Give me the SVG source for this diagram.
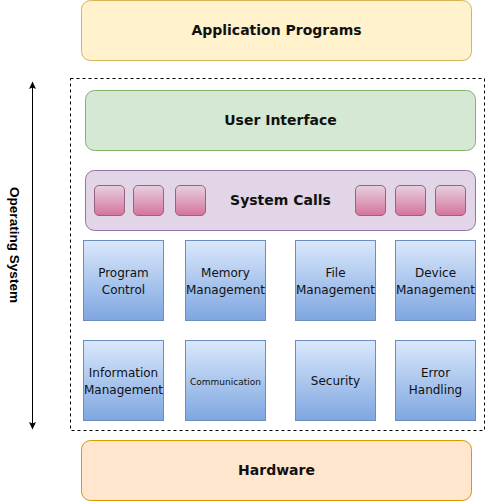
<svg xmlns="http://www.w3.org/2000/svg" width="486" height="501" viewBox="0 0 486 501">
<style>
.t{font-family:"DejaVu Sans",Verdana,sans-serif;font-size:12px;fill:#111;text-anchor:middle;dominant-baseline:central}
.b{font-family:"DejaVu Sans",Verdana,sans-serif;font-size:14px;font-weight:bold;fill:#111;text-anchor:middle;dominant-baseline:central}
.blue{fill:url(#gb);stroke:#6c8ebf;stroke-width:1}
.pink{fill:url(#gp);stroke:#996185;stroke-width:1}
</style>
<defs>
<linearGradient id="gb" x1="0" y1="0" x2="0" y2="1"><stop offset="0" stop-color="#dae8fc"/><stop offset="1" stop-color="#7ea6e0"/></linearGradient>
<linearGradient id="gp" x1="0" y1="0" x2="0" y2="1"><stop offset="0" stop-color="#e6d0de"/><stop offset="1" stop-color="#d5739d"/></linearGradient>
<marker id="ah" viewBox="0 0 8 8" refX="7" refY="4" markerWidth="8" markerHeight="8" markerUnits="userSpaceOnUse" orient="auto-start-reverse"><path d="M0,0.5 L7.5,4 L0,7.5 L1.5,4 Z" fill="#000"/></marker>
</defs>
<rect width="486" height="501" fill="#fff"/>
<g id="os-frame"><rect x="70.5" y="78.5" width="414" height="352" fill="none" stroke="#000" stroke-dasharray="3,3"/></g>
<g id="connectors"><line x1="32.5" y1="82" x2="32.5" y2="429" stroke="#000" stroke-width="1" marker-start="url(#ah)" marker-end="url(#ah)"/></g>
<g id="os-label"><text transform="translate(14,245) rotate(90)" font-family="'Liberation Sans',Arial,sans-serif" font-size="12" font-weight="bold" text-anchor="middle" dominant-baseline="central" fill="#000" textLength="116" lengthAdjust="spacingAndGlyphs">Operating System</text></g>
<g id="app"><rect x="81.5" y="0.5" width="390" height="60" rx="9" fill="#fff2cc" stroke="#d6b656"/><text class="b" x="276.5" y="30">Application Programs</text></g>
<g id="ui"><rect x="85.5" y="90.5" width="390" height="60" rx="9" fill="#d5e8d4" stroke="#82b366"/><text class="b" x="280.5" y="120">User Interface</text></g>
<g id="syscalls"><rect x="85.5" y="170.5" width="390" height="60" rx="9" fill="#e1d5e7" stroke="#9673a6"/><text class="b" x="280.5" y="200">System Calls</text>
<rect class="pink" x="94.5" y="185.5" width="30" height="30" rx="4.5"/>
<rect class="pink" x="133.5" y="185.5" width="30" height="30" rx="4.5"/>
<rect class="pink" x="175.5" y="185.5" width="30" height="30" rx="4.5"/>
<rect class="pink" x="355.5" y="185.5" width="30" height="30" rx="4.5"/>
<rect class="pink" x="395.5" y="185.5" width="30" height="30" rx="4.5"/>
<rect class="pink" x="435.5" y="185.5" width="30" height="30" rx="4.5"/>
</g>
<g id="program-control"><rect class="blue" x="83.5" y="240.5" width="80" height="80"/><text class="t" x="123.5" y="272.5">Program</text><text class="t" x="123.5" y="289.5">Control</text></g>
<g id="memory"><rect class="blue" x="185.5" y="240.5" width="80" height="80"/><text class="t" x="225.5" y="272.5">Memory</text><text class="t" x="225.5" y="289.5">Management</text></g>
<g id="file"><rect class="blue" x="295.5" y="240.5" width="80" height="80"/><text class="t" x="335.5" y="272.5">File</text><text class="t" x="335.5" y="289.5">Management</text></g>
<g id="device"><rect class="blue" x="395.5" y="240.5" width="80" height="80"/><text class="t" x="435.5" y="272.5">Device</text><text class="t" x="435.5" y="289.5">Management</text></g>
<g id="information"><rect class="blue" x="83.5" y="340.5" width="80" height="80"/><text class="t" x="123.5" y="372.5">Information</text><text class="t" x="123.5" y="389.5">Management</text></g>
<g id="communication"><rect class="blue" x="185.5" y="340.5" width="80" height="80"/><text class="t" x="225.5" y="381.5" style="font-size:9px">Communication</text></g>
<g id="security"><rect class="blue" x="295.5" y="340.5" width="80" height="80"/><text class="t" x="335.5" y="381">Security</text></g>
<g id="error"><rect class="blue" x="395.5" y="340.5" width="80" height="80"/><text class="t" x="435.5" y="372.5">Error</text><text class="t" x="435.5" y="389.5">Handling</text></g>
<g id="hardware"><rect x="81.5" y="440.5" width="390" height="60" rx="9" fill="#ffe6cc" stroke="#d79b00"/><text class="b" x="276.5" y="470">Hardware</text></g>
</svg>
